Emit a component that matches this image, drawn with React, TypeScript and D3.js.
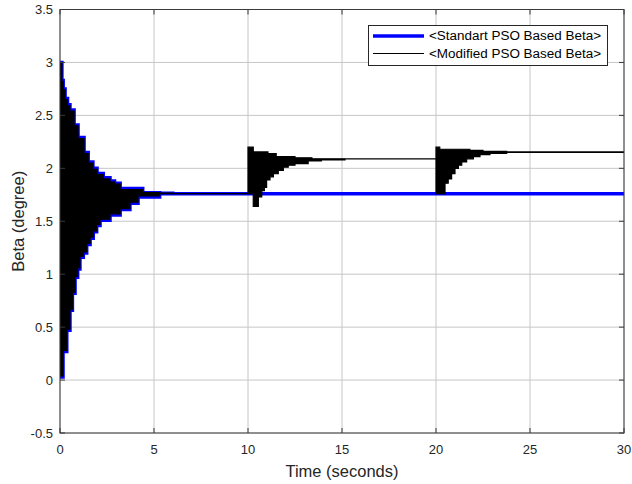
import React from "react";
import * as d3 from "d3";

const xTicks = [0, 5, 10, 15, 20, 25, 30];
const yTicks = [-0.5, 0, 0.5, 1, 1.5, 2, 2.5, 3, 3.5];
const yTickLabels = ["-0.5", "0", "0.5", "1", "1.5", "2", "2.5", "3", "3.5"];

const seriesNames = ["<Standart PSO Based Beta>", "<Modified PSO Based Beta>"];

// Standard PSO: upper / lower envelope of the oscillation (step values)
const standardUpperT = [0, 0.1, 0.17, 0.27, 0.4, 0.53, 0.75, 0.96, 1.28, 1.5, 1.75, 1.97, 2.3, 2.66, 2.9, 3.2, 4.4, 5.3, 6.0, 30];
const standardUpperV = [3.0, 2.83, 2.75, 2.66, 2.6, 2.55, 2.41, 2.29, 2.15, 2.06, 2.0, 1.95, 1.91, 1.88, 1.86, 1.81, 1.77, 1.765, 1.76, 1.76];
const standardLowerT = [0, 0.16, 0.36, 0.53, 0.66, 0.8, 0.94, 1.06, 1.24, 1.42, 1.6, 1.77, 1.95, 2.13, 2.66, 3.2, 3.72, 4.15, 5.3, 30];
const standardLowerV = [0.03, 0.27, 0.47, 0.66, 0.82, 0.97, 1.05, 1.16, 1.2, 1.28, 1.34, 1.4, 1.46, 1.51, 1.56, 1.61, 1.67, 1.73, 1.76, 1.76];

// Modified PSO: upper / lower envelope
const modifiedUpperT = [0, 0.1, 0.17, 0.27, 0.4, 0.53, 0.75, 0.96, 1.28, 1.5, 1.75, 1.97, 2.3, 2.66, 2.9, 3.2, 4.4, 5.3, 6.0,
  10.0, 10.28, 11.06, 11.5, 12.5, 13.4,
  20.0, 20.2, 21.8, 22.5, 23.76, 30];
const modifiedUpperV = [2.99, 2.82, 2.74, 2.65, 2.59, 2.54, 2.4, 2.28, 2.14, 2.05, 1.99, 1.94, 1.9, 1.87, 1.85, 1.8, 1.77, 1.765, 1.76,
  2.2, 2.155, 2.14, 2.11, 2.1, 2.09,
  2.2, 2.18, 2.17, 2.16, 2.155, 2.155];
const modifiedLowerT = [0, 0.16, 0.36, 0.53, 0.66, 0.8, 0.94, 1.06, 1.24, 1.42, 1.6, 1.77, 1.95, 2.13, 2.66, 3.2, 3.72, 4.15, 5.3,
  10.28, 10.55, 10.73, 10.87, 10.99, 11.17, 11.35, 11.61, 11.88, 12.14, 12.5, 13.2, 13.9, 15.16,
  20.0, 20.48, 20.65, 20.83, 21.01, 21.19, 21.37, 21.63, 21.99, 22.34, 22.87, 23.76, 30];
const modifiedLowerV = [0.04, 0.28, 0.48, 0.67, 0.83, 0.98, 1.06, 1.17, 1.21, 1.29, 1.35, 1.41, 1.47, 1.52, 1.57, 1.62, 1.68, 1.74, 1.76,
  1.64, 1.73, 1.79, 1.82, 1.89, 1.92, 1.95, 1.98, 2.01, 2.03, 2.045, 2.07, 2.08, 2.09,
  1.76, 1.86, 1.9, 1.95, 2.0, 2.03, 2.06, 2.09, 2.11, 2.13, 2.14, 2.15, 2.155];

type Pt = { t: number; hi: number; lo: number };

function merge(upT: number[], upV: number[], loT: number[], loV: number[]): Pt[] {
  const times = Array.from(new Set([...upT, ...loT])).sort((a, b) => a - b);
  const look = (T: number[], V: number[], t: number) => V[Math.max(0, d3.bisectRight(T, t) - 1)];
  return times.map((t) => ({ t, hi: look(upT, upV, t), lo: look(loT, loV, t) }));
}

const W = 632;
const H = 484;
const L = 60;
const R = 624;
const T = 9.5;
const B = 433;

export default function App() {
  const x = d3.scaleLinear().domain([0, 30]).range([L, R]);
  const y = d3.scaleLinear().domain([-0.5, 3.5]).range([B, T]);

  const area = d3
    .area<Pt>()
    .x((d) => x(d.t))
    .y0((d) => y(d.lo))
    .y1((d) => y(d.hi))
    .curve(d3.curveStepAfter);

  const std = merge(standardUpperT, standardUpperV, standardLowerT, standardLowerV);
  const mod = merge(modifiedUpperT, modifiedUpperV, modifiedLowerT, modifiedLowerV);

  const font = "Arial, 'Liberation Sans', Helvetica, sans-serif";
  const axisColor = "#3a3a3a";
  const gridColor = "#c6c6c6";
  const tickLen = 5;

  return (
    <svg width={W} height={H} style={{ position: "absolute", left: 0, top: 0, background: "#fff" }} fontFamily={font}>
      <rect x={0} y={0} width={W} height={H} fill="#fff" />
      {/* grid */}
      {xTicks.map((v) => (
        <line key={"gx" + v} x1={x(v)} x2={x(v)} y1={T} y2={B} stroke={gridColor} strokeWidth={1} />
      ))}
      {yTicks.map((v) => (
        <line key={"gy" + v} x1={L} x2={R} y1={y(v)} y2={y(v)} stroke={gridColor} strokeWidth={1} />
      ))}
      <defs>
        <clipPath id="plotclip">
          <rect x={L} y={T} width={R - L} height={B - T} />
        </clipPath>
      </defs>
      <g clipPath="url(#plotclip)">
        <path d={area(std) || ""} fill="#0000ff" stroke="#0000ff" strokeWidth={3.5} />
        <path d={area(mod) || ""} fill="#000" stroke="#000" strokeWidth={1.2} />
      </g>
      {/* ticks */}
      {xTicks.map((v) => (
        <g key={"tx" + v}>
          <line x1={x(v)} x2={x(v)} y1={B} y2={B - tickLen} stroke={axisColor} />
          <line x1={x(v)} x2={x(v)} y1={T} y2={T + tickLen} stroke={axisColor} />
          <text x={x(v)} y={454} fontSize={13} textAnchor="middle" fill="#262626">
            {String(v)}
          </text>
        </g>
      ))}
      {yTicks.map((v, i) => (
        <g key={"ty" + v}>
          <line x1={L} x2={L + tickLen} y1={y(v)} y2={y(v)} stroke={axisColor} />
          <line x1={R} x2={R - tickLen} y1={y(v)} y2={y(v)} stroke={axisColor} />
          <text x={53} y={y(v) + 4.5} fontSize={13} textAnchor="end" fill="#262626">
            {yTickLabels[i]}
          </text>
        </g>
      ))}
      {/* box */}
      <rect x={L} y={T} width={R - L} height={B - T} fill="none" stroke={axisColor} strokeWidth={1} />
      {/* axis labels */}
      <text x={(L + R) / 2} y={476.5} fontSize={16.5} textAnchor="middle" fill="#262626">
        Time (seconds)
      </text>
      <text transform={`translate(23.5,${(T + B) / 2}) rotate(-90)`} fontSize={16.5} textAnchor="middle" fill="#262626">
        Beta (degree)
      </text>
      {/* legend */}
      <rect x={368.5} y={25.5} width={239} height={40} fill="#fff" stroke="#262626" strokeWidth={1} />
      <line x1={373} x2={424} y1={36} y2={36} stroke="#0000ff" strokeWidth={3.5} />
      <line x1={373} x2={424} y1={53.5} y2={53.5} stroke="#000" strokeWidth={1.2} />
      <text x={429} y={40} fontSize={12} fill="#000" textLength={172} lengthAdjust="spacingAndGlyphs">
        {seriesNames[0]}
      </text>
      <text x={429} y={57.5} fontSize={12} fill="#000" textLength={172} lengthAdjust="spacingAndGlyphs">
        {seriesNames[1]}
      </text>
    </svg>
  );
}
